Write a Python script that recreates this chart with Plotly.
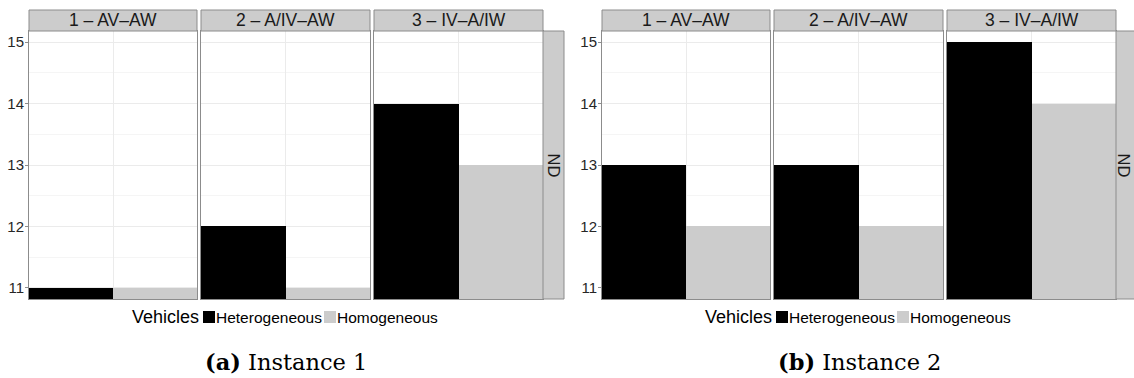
import plotly.graph_objects as go

# ---- data ----------------------------------------------------------------
facets = ["1 – AV–AW", "2 – A/IV–AW", "3 – IV–A/IW"]
vehicles = ["Heterogeneous", "Homogeneous"]
row_label = "ND"
legend_title = "Vehicles"

inst1_heterogeneous = [11, 12, 14]
inst1_homogeneous = [11, 11, 13]
inst2_heterogeneous = [13, 13, 15]
inst2_homogeneous = [12, 12, 14]

captions = [("(a)", "Instance 1"), ("(b)", "Instance 2")]

# ---- styling -------------------------------------------------------------
W, H = 1134, 378
FILL = {"Heterogeneous": "#000000", "Homogeneous": "#cccccc"}
BORDER = "#8c8c8c"
STRIP_FILL = "#cccccc"
GRID_MAJOR = "#ebebeb"
GRID_MINOR = "#f5f5f5"
SANS = "Liberation Sans, Arial, sans-serif"
SERIF = "DejaVu Serif, serif"
Y_RANGE = [10.82, 15.18]

STRIP_TOP, PANEL_TOP, PANEL_BOTTOM = 10, 31, 299
LEGEND_Y = 317
CAPTION_Y = 362


def fx(x):
    return x / W


def fy(y):
    return 1 - y / H


panels = [
    {
        "values": [inst1_heterogeneous, inst1_homogeneous],
        "cols": [(29, 197), (201, 370), (374, 543)],
        "strip": (543, 564),
        "caption": captions[0],
    },
    {
        "values": [inst2_heterogeneous, inst2_homogeneous],
        "cols": [(602, 770), (774, 943), (947, 1116)],
        "strip": (1116, 1137),
        "caption": captions[1],
    },
]

fig = go.Figure()
shapes = []
annotations = []
layout_axes = {}

k = 0
for panel in panels:
    for j, facet in enumerate(facets):
        k += 1
        xa = "x" if k == 1 else f"x{k}"
        ya = "y" if k == 1 else f"y{k}"
        # two dodged bars filling the facet, one per vehicle type
        for s, name in enumerate(vehicles):
            fig.add_trace(go.Bar(
                x=[facet], y=[panel["values"][s][j]],
                width=0.5, offset=-0.5 + 0.5 * s,
                marker=dict(color=FILL[name], line=dict(width=0)),
                name=name, showlegend=False,
                xaxis=xa, yaxis=ya,
            ))
        x0, x1 = panel["cols"][j]
        layout_axes["xaxis" if k == 1 else f"xaxis{k}"] = dict(
            domain=[fx(x0), fx(x1)], anchor=ya, type="category",
            range=[-0.5, 0.5], showticklabels=False, ticks="",
            showgrid=True, gridcolor=GRID_MAJOR, gridwidth=1,
            showline=True, mirror=True, linecolor=BORDER, linewidth=1,
            zeroline=False, fixedrange=True,
        )
        first = j == 0
        layout_axes["yaxis" if k == 1 else f"yaxis{k}"] = dict(
            domain=[fy(PANEL_BOTTOM), fy(PANEL_TOP)], anchor=xa,
            range=Y_RANGE, tick0=11, dtick=1,
            showticklabels=first, ticks="outside" if first else "",
            ticklen=3, tickwidth=1, tickcolor=BORDER,
            ticklabelstandoff=-2,
            tickfont=dict(family=SANS, size=15, color="#262626"),
            showgrid=True, gridcolor=GRID_MAJOR, gridwidth=1,
            minor=dict(tick0=11, dtick=0.5, showgrid=True,
                       gridcolor=GRID_MINOR, gridwidth=1, ticks=""),
            showline=True, mirror=True, linecolor=BORDER, linewidth=1,
            zeroline=False, fixedrange=True,
        )
        # facet strip on top
        shapes.append(dict(
            type="rect", xref="paper", yref="paper",
            x0=fx(x0), x1=fx(x1), y0=fy(PANEL_TOP), y1=fy(STRIP_TOP),
            fillcolor=STRIP_FILL, line=dict(color=BORDER, width=1),
            layer="above",
        ))
        annotations.append(dict(
            text=facet, xref="paper", yref="paper",
            x=fx((x0 + x1) / 2), y=fy((STRIP_TOP + PANEL_TOP) / 2),
            xanchor="center", yanchor="middle", showarrow=False,
            font=dict(family=SANS, size=17.5, color="#1a1a1a"),
        ))

    # row strip on the right (the second one runs off the page edge)
    s0, s1 = panel["strip"]
    shapes.append(dict(
        type="rect", xref="paper", yref="paper",
        x0=fx(s0), x1=fx(s1), y0=fy(PANEL_BOTTOM), y1=fy(PANEL_TOP),
        fillcolor=STRIP_FILL, line=dict(color=BORDER, width=1),
        layer="above",
    ))
    label_x = min(s0 + 10.5, W - 10.5)
    annotations.append(dict(
        text=row_label, xref="paper", yref="paper",
        x=fx(label_x), y=fy((PANEL_TOP + PANEL_BOTTOM) / 2),
        xanchor="center", yanchor="middle", showarrow=False, textangle=90,
        font=dict(family=SANS, size=16.5, color="#1a1a1a"),
    ))

    # legend below the facets
    cx = (panel["cols"][0][0] + panel["cols"][-1][1]) / 2
    annotations.append(dict(
        text=legend_title, xref="paper", yref="paper",
        x=fx(cx - 85), y=fy(LEGEND_Y), xanchor="right", yanchor="middle",
        showarrow=False, font=dict(family=SANS, size=18, color="#000000"),
    ))
    key_left = [cx - 83, cx + 38]
    for name, kx in zip(vehicles, key_left):
        shapes.append(dict(
            type="rect", xref="paper", yref="paper",
            x0=fx(kx), x1=fx(kx + 12), y0=fy(LEGEND_Y + 6), y1=fy(LEGEND_Y - 6),
            fillcolor=FILL[name], line=dict(width=0), layer="above",
        ))
        annotations.append(dict(
            text=name, xref="paper", yref="paper",
            x=fx(kx + 12), y=fy(LEGEND_Y), xanchor="left", yanchor="middle",
            showarrow=False, xshift=-1,
            font=dict(family=SANS, size=15.5, color="#000000"),
        ))

    # sub-figure caption
    tag, title = panel["caption"]
    annotations.append(dict(
        text=f"<b>{tag}</b> {title}", xref="paper", yref="paper",
        x=fx(cx), y=fy(CAPTION_Y), xanchor="center", yanchor="middle",
        showarrow=False, font=dict(family=SERIF, size=22.5, color="#000000"),
    ))

fig.update_layout(
    width=W, height=H, autosize=False,
    margin=dict(l=0, r=0, t=0, b=0, pad=0),
    paper_bgcolor="white", plot_bgcolor="white",
    barmode="overlay", bargap=0,
    shapes=shapes, annotations=annotations,
    showlegend=False,
    **layout_axes,
)

fig.write_html("out.html")
